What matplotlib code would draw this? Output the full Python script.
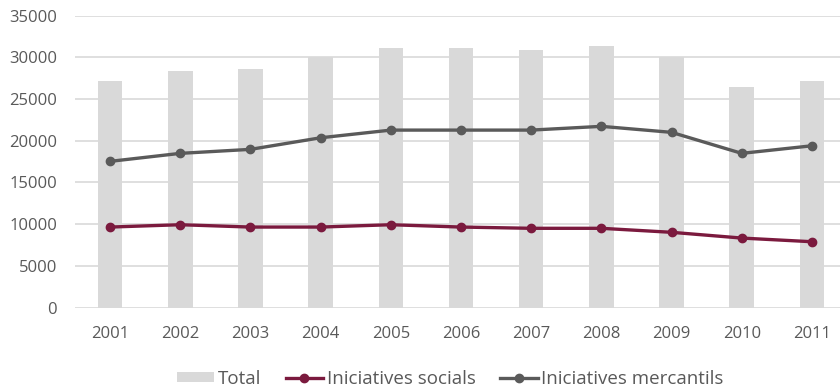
import matplotlib
matplotlib.use("Agg")
import matplotlib.pyplot as plt
import numpy as np

# values
years = ["2001", "2002", "2003", "2004", "2005", "2006", "2007", "2008", "2009", "2010", "2011"]
total = [27150, 28320, 28560, 30070, 31080, 31080, 30880, 31320, 30000, 26440, 27150]
socials = [9650, 9930, 9650, 9650, 9930, 9650, 9500, 9500, 9020, 8330, 7890]
mercantils = [17530, 18490, 18970, 20360, 21280, 21280, 21280, 21730, 21010, 18490, 19400]

plt.rcParams['font.family'] = ['Open Sans', 'DejaVu Sans']
grey_txt = "#595959"

fig = plt.figure(figsize=(8.4, 3.87), dpi=100)
ax = fig.add_axes([75 / 840, 0.2054, 772 / 840, 0.754])

x = np.arange(len(years))
bars = ax.bar(x, total, width=0.35, color="#d9d9d9", label="Total", zorder=2)
l1, = ax.plot(x, socials, color="#7b1a3e", lw=2.4, marker="o", ms=6, label="Iniciatives socials", zorder=3)
l2, = ax.plot(x, mercantils, color="#5a5a5a", lw=2.4, marker="o", ms=6, label="Iniciatives mercantils", zorder=3)

ax.set_xlim(-0.5, len(years) - 0.5)
ax.set_ylim(0, 35000)
ax.set_yticks(range(0, 35001, 5000))
ax.set_xticks(x)
ax.set_xticklabels(years)
ax.yaxis.grid(True, color="#d9d9d9", lw=1.2, zorder=0)
ax.set_axisbelow(True)
for s in ax.spines.values():
    s.set_visible(False)
ax.tick_params(length=0, labelsize=12, colors=grey_txt)
ax.tick_params(axis="x", pad=13)
ax.tick_params(axis="y", pad=13)

fig.legend(handles=[bars, l1, l2], loc="lower center", ncol=3, frameon=False, fontsize=13.5,
           bbox_to_anchor=(0.536, -0.045), handlelength=2.0, handleheight=0.5,
           columnspacing=1.3, handletextpad=0.2, labelcolor=grey_txt)

fig.savefig("out.png", dpi=100)
